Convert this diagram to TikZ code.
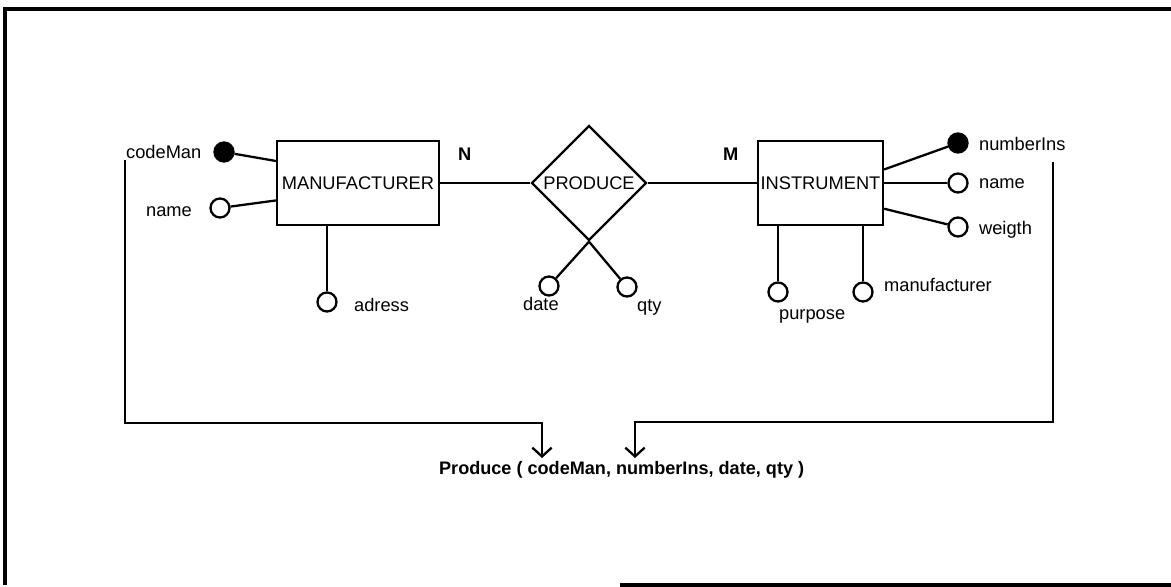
\documentclass[tikz,border=0pt]{standalone}
\usepackage{fontspec}
\setmainfont{Liberation Sans}
\usetikzlibrary{shapes.geometric,arrows.meta}
\begin{document}
\begin{tikzpicture}[x=0.02cm,y=-0.02cm,line width=1.3pt]
            \tikzstyle{entity}=[draw,rectangle,minimum height=1.68cm,inner sep=0pt,font=\fontsize{10.4}{12}\selectfont]
            \tikzstyle{relation}=[draw,diamond,aspect=1,minimum width=2.3cm,minimum height=2.3cm,inner sep=0pt,font=\fontsize{10.4}{12}\selectfont]
            \tikzstyle{attrib}=[draw,circle,minimum size=0.38cm,inner sep=0pt]
            \tikzstyle{keyattrib}=[attrib,fill=black]
            \tikzstyle{attname}=[anchor=base west,inner sep=0pt,font=\fontsize{10.4}{12}\selectfont]
            \tikzstyle{card}=[attname,font=\fontsize{10.4}{12}\selectfont\bfseries]
            \tikzstyle{link}=[-{Straight Barb[length=5pt,width=11pt]}]
            \useasboundingbox (0,0) rectangle (1171,587);
            \draw[line width=1.9pt] (1171,9) -- (5,9) -- (5,585);
            \draw[line width=1.9pt] (620,585) -- (1171,585);
            % entities and relationship
            \node[entity,minimum width=3.24cm] (man) at (358,183) {MANUFACTURER};
            \node[relation] (prod) at (589,183) {PRODUCE};
            \node[entity,minimum width=2.5cm] (ins) at (820.5,183) {INSTRUMENT};
            \node[card] (cn) at (457,161) {N};
            \node[card] (cm) at (722,161) {M};
            % attributes
            \node[keyattrib] (cmk) at (224,152) {};
            \node[attrib] (mnc) at (220,208) {};
            \node[attrib] (adc) at (327,302) {};
            \node[attrib] (dtc) at (549,286) {};
            \node[attrib] (qtc) at (627,287) {};
            \node[attrib] (puc) at (778,292) {};
            \node[attrib] (mfc) at (863,292) {};
            \node[keyattrib] (nik) at (958,143) {};
            \node[attrib] (inc) at (958,183) {};
            \node[attrib] (wgc) at (958,227) {};
            \node[attname] (cmt) at (125,159) {codeMan};
            \node[attname] (mnt) at (145,217) {name};
            \node[attname] (adt) at (353,312) {adress};
            \node[attname] (dtt) at (522,311) {date};
            \node[attname] (qtt) at (636,312) {qty};
            \node[attname] (put) at (778,320) {purpose};
            \node[attname] (mft) at (883,292) {manufacturer};
            \node[attname] (nit) at (978,151) {numberIns};
            \node[attname] (int) at (978,189) {name};
            \node[attname] (wgt) at (978,235) {weigth};
            \node[attname,font=\fontsize{10.3}{12}\selectfont\bfseries] (tab) at (438,475) {Produce ( codeMan, numberIns, date, qty )};
            % connectors
            \draw (man.east) -- (prod.west);
            \draw (prod.east) -- (ins.west);
            \draw (cmk) -- (man.165);
            \draw (mnc) -- (man.192);
            \draw (adc) -- (adc |- man.south);
            \draw (prod.south) -- (dtc);
            \draw (prod.south) -- (qtc);
            \draw (nik) -- (ins.12);
            \draw (inc) -- (ins.east);
            \draw (wgc) -- (ins.-22);
            \draw (puc) -- (puc |- ins.south);
            \draw (mfc) -- (mfc |- ins.south);
            % keys into the relation table
            \coordinate (ta) at (542,458);
            \coordinate (tb) at (635,458);
            \coordinate (nb) at (1053,162);
            \draw[link] (cmt.south west) -- ++(0,263) -| (ta);
            \draw[link] (nb) -- ++(0,260) -| (tb);
\end{tikzpicture}
\end{document}
